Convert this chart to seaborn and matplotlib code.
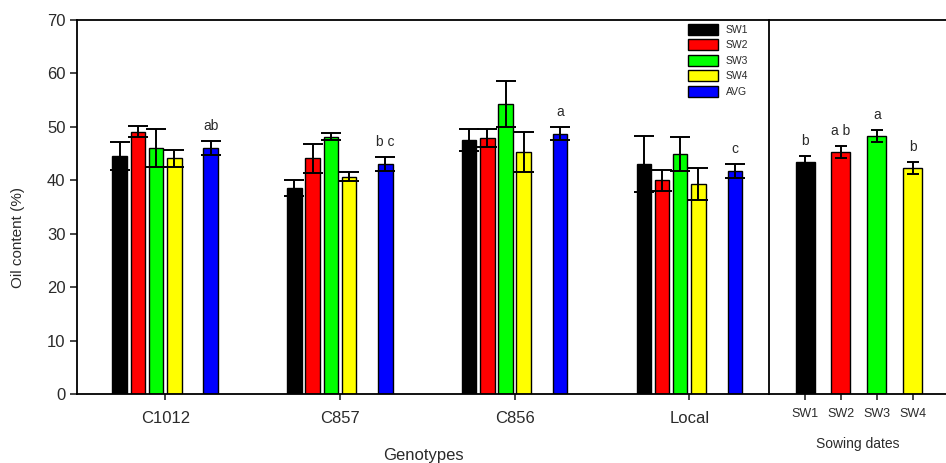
import numpy as np
import pandas as pd
import matplotlib
matplotlib.use("Agg")
import matplotlib.pyplot as plt
import seaborn as sns
from matplotlib.patches import Patch

# ---------------- data ----------------
genotypes = ["C1012", "C857", "C856", "Local"]
treatments = ["SW1", "SW2", "SW3", "SW4", "AVG"]
sw1 = [44.6, 38.6, 47.6, 43.1]
sw2 = [49.1, 44.1, 47.9, 40.0]
sw3 = [46.1, 48.2, 54.2, 45.0]
sw4 = [44.1, 40.7, 45.3, 39.4]
avg = [46.1, 43.0, 48.7, 41.8]
sw1_err = [2.6, 1.5, 2.1, 5.2]
sw2_err = [1.0, 2.8, 1.7, 2.0]
sw3_err = [3.5, 0.6, 4.3, 3.2]
sw4_err = [1.5, 0.9, 3.7, 3.0]
avg_err = [1.3, 1.3, 1.2, 1.3]
avg_letters = ["ab", "b c", "a", "c"]

sowing_dates = ["SW1", "SW2", "SW3", "SW4"]
sowing_means = [43.5, 45.3, 48.3, 42.3]
sowing_err = [1.0, 1.1, 1.1, 1.1]
sowing_letters = ["b", "a b", "a", "b"]

colors = {"SW1": "#000000", "SW2": "#ff0000", "SW3": "#00ff00",
          "SW4": "#ffff00", "AVG": "#0000ff"}

# ---------------- style ----------------
sns.set_theme(style="white")
plt.rcParams["font.family"] = ["Liberation Sans", "DejaVu Sans"]
TXT = "#2a2a2a"

values = {"SW1": sw1, "SW2": sw2, "SW3": sw3, "SW4": sw4, "AVG": avg}
errors = {"SW1": sw1_err, "SW2": sw2_err, "SW3": sw3_err, "SW4": sw4_err, "AVG": avg_err}
rows = []
for t in treatments:
    for g, v, e in zip(genotypes, values[t], errors[t]):
        rows.append({"genotype": g, "treatment": t, "value": v, "err": e})
df = pd.DataFrame(rows)

GAP = " "
hue_order = ["SW1", "SW2", "SW3", "SW4", GAP, "AVG"]
palette = dict(colors)
palette[GAP] = "#ffffff"

W, H = 946, 463
fig = plt.figure(figsize=(W / 100, H / 100), dpi=100)
x0, x1, x2 = 76.7, 769.3, 947.0
ytop, ybot = 20.0, 394.3
ax1 = fig.add_axes([x0 / W, 1 - ybot / H, (x1 - x0) / W, (ybot - ytop) / H])
ax2 = fig.add_axes([x1 / W, 1 - ybot / H, (x2 - x1) / W, (ybot - ytop) / H], sharey=ax1)
ax2.set_facecolor("none")

sns.barplot(data=df, x="genotype", y="value", hue="treatment",
            order=genotypes, hue_order=hue_order, palette=palette, saturation=1,
            width=0.625, gap=0.2, edgecolor="black", linewidth=1.0,
            errorbar=None, legend=False, ax=ax1, zorder=2)

# error bars for the genotype panel, matched to each non-empty hue container
present = [t for t in hue_order if t != GAP]
nonempty = [c for c in ax1.containers if len(c) > 0]
for cont, t in zip(nonempty, present):
    xs = [b.get_x() + b.get_width() / 2 for b in cont]
    hs = [b.get_height() for b in cont]
    ax1.errorbar(xs, hs, yerr=errors[t], fmt="none", ecolor="black",
                 elinewidth=1.4, capsize=7.5, capthick=1.4, zorder=3)
    if t == "AVG":
        for x, h, e, lab in zip(xs, hs, errors[t], avg_letters):
            ax1.annotate(lab, (x, h + e), xytext=(0, 6), textcoords="offset points",
                         ha="center", va="bottom", fontsize=10, color=TXT)

sns.barplot(x=sowing_dates, y=sowing_means, hue=sowing_dates, palette=colors,
            saturation=1, width=0.53, edgecolor="black", linewidth=1.0, legend=False,
            ax=ax2, zorder=2)
bars2 = [b for c in ax2.containers for b in c]
xs2 = [b.get_x() + b.get_width() / 2 for b in bars2]
hs2 = [b.get_height() for b in bars2]
ax2.errorbar(xs2, hs2, yerr=sowing_err, fmt="none", ecolor="black",
             elinewidth=1.4, capsize=4.3, capthick=1.4, zorder=3)
for x, h, e, lab in zip(xs2, hs2, sowing_err, sowing_letters):
    ax2.annotate(lab, (x, h + e), xytext=(0, 6), textcoords="offset points",
                 ha="center", va="bottom", fontsize=10, color=TXT)

# ---------------- axes ----------------
ax1.set_ylim(0, 70)
ax1.set_yticks(np.arange(0, 71, 10))
ax1.set_xlim(-0.507, 3.458)
ax2.set_xlim(-1.0, 3.96)

for ax in (ax1, ax2):
    for s in ax.spines.values():
        s.set_linewidth(1.3)
        s.set_color("black")
ax2.spines["left"].set_visible(False)
ax2.spines["right"].set_visible(False)

ax1.tick_params(axis="y", direction="out", length=5, width=1.2, labelsize=12,
                labelcolor=TXT, left=True, pad=3)
ax1.tick_params(axis="x", direction="out", length=4, width=1.2, labelsize=12,
                labelcolor=TXT, bottom=True, pad=8)
ax2.tick_params(axis="y", left=False, labelleft=False)
ax2.tick_params(axis="x", direction="out", length=4, width=1.2, labelsize=9,
                labelcolor=TXT, bottom=True, pad=6)

ax1.set_xlabel("Genotypes", fontsize=12, color=TXT, labelpad=16)
ax2.set_xlabel("Sowing dates", fontsize=10, color=TXT, labelpad=12)
ax1.set_ylabel("Oil content (%)", fontsize=11, color=TXT)
ax1.yaxis.set_label_coords(-0.074, 0.42)
ax2.set_ylabel("")

handles = [Patch(facecolor=colors[t], edgecolor="black", linewidth=1.0) for t in treatments]
fig.legend(handles, treatments, loc="upper left",
           bbox_to_anchor=(688 / W, 1 - 24 / H), frameon=False, fontsize=7.5,
           handlelength=2.9, handleheight=1.25, labelspacing=0.42,
           handletextpad=0.7, borderpad=0, borderaxespad=0, labelcolor=TXT)

fig.savefig("out.png", dpi=100)
